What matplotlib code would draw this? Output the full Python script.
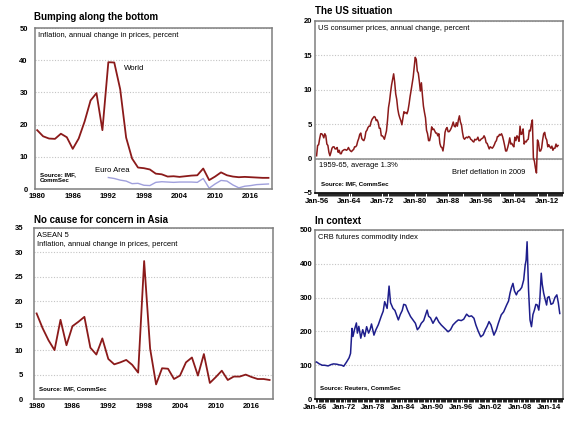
import numpy as np
import matplotlib
matplotlib.use("Agg")
import matplotlib.pyplot as plt

plt.rcParams["font.family"] = ["Liberation Sans", "DejaVu Sans"]

RED = "#8B1A1A"
NAVY = "#1E1E8C"
EURO = "#A0A0DC"
FRAME = "#7F7F7F"
GRID = "#C4C4C4"

# World / Euro area inflation, annual
years = list(range(1980, 2020))
world = [18.3, 16.4, 15.7, 15.6, 17.2, 16.1, 12.5, 15.7, 21.0, 27.5,
         29.8, 18.3, 39.4, 39.3, 31.0, 16.0, 9.5, 6.7, 6.5, 6.1,
         4.8, 4.6, 3.9, 4.0, 3.8, 4.0, 4.2, 4.3, 6.4, 2.8,
         3.9, 5.2, 4.3, 3.9, 3.7, 3.8, 3.7, 3.6, 3.5, 3.5]
euro_years = list(range(1992, 2020))
euro = [3.6, 3.3, 2.8, 2.5, 1.7, 1.8, 1.2, 1.1, 2.1, 2.3,
        2.2, 2.1, 2.2, 2.2, 2.2, 2.1, 3.3, 0.3, 1.6, 2.7,
        2.5, 1.3, 0.4, 0.9, 1.1, 1.4, 1.5, 1.6]

# ASEAN 5 inflation, annual
asean = [17.5, 14.5, 12.0, 10.0, 16.2, 11.0, 14.9, 15.8, 16.8, 10.5,
         9.1, 12.4, 8.2, 7.1, 7.5, 8.0, 7.0, 5.4, 28.2, 10.3,
         3.0, 6.3, 6.2, 4.1, 4.8, 7.5, 8.5, 4.8, 9.2, 3.3,
         4.5, 5.8, 3.9, 4.6, 4.6, 5.0, 4.5, 4.1, 4.1, 3.9]

# US CPI, annual change, quarterly from Q1 1956
us_start = 1956
us_cpi = [0.4, 1.9, 2.0, 2.9, 3.6, 3.6, 3.4, 3.0, 3.6, 3.3, 2.1, 1.9,
          0.9, 0.4, 0.9, 1.5, 1.7, 1.7, 1.4, 1.4, 1.6, 0.9, 1.2, 0.7,
          0.7, 1.1, 1.2, 1.3, 1.3, 1.2, 1.3, 1.6, 1.3, 1.1, 1.0, 1.2,
          1.3, 1.7, 1.7, 1.9, 2.5, 2.9, 3.5, 3.7, 2.9, 2.7, 2.6, 3.0,
          3.9, 4.1, 4.5, 4.7, 4.7, 5.3, 5.7, 5.9, 6.1, 6.0, 5.5, 5.6,
          5.2, 4.4, 4.4, 3.3, 3.3, 3.1, 2.8, 3.4, 4.0, 5.5, 7.4, 8.3,
          9.6, 10.7, 11.5, 12.3, 11.1, 9.4, 8.6, 7.2, 6.4, 5.9, 5.5, 4.9,
          5.9, 6.8, 6.6, 6.7, 6.5, 7.0, 7.9, 9.0, 9.9, 10.9, 11.8, 13.3,
          14.7, 14.4, 12.7, 12.4, 11.2, 9.8, 11.0, 9.2, 7.6, 6.7, 5.9, 4.1,
          3.6, 2.6, 2.6, 3.3, 4.6, 4.2, 4.3, 4.0, 3.7, 3.7, 3.3, 3.6,
          2.2, 1.7, 1.6, 1.1, 2.1, 3.8, 4.3, 4.5, 3.9, 3.9, 4.1, 4.4,
          4.8, 5.3, 4.7, 4.6, 5.2, 4.7, 5.6, 6.2, 5.3, 4.9, 3.8, 3.0,
          2.8, 3.0, 3.1, 3.0, 3.2, 3.1, 2.8, 2.7, 2.5, 2.4, 2.8, 2.7,
          2.8, 3.1, 2.6, 2.6, 2.8, 2.9, 3.0, 3.3, 3.0, 2.3, 2.2, 1.8,
          1.4, 1.7, 1.6, 1.5, 1.7, 2.0, 2.4, 2.6, 3.2, 3.2, 3.5, 3.4,
          3.6, 3.2, 2.6, 1.9, 1.1, 1.1, 1.6, 2.2, 3.0, 2.1, 2.2, 1.9,
          1.7, 3.1, 2.6, 3.3, 3.1, 2.5, 4.7, 3.5, 3.6, 4.3, 2.1, 2.5,
          2.4, 2.7, 2.8, 4.1, 4.0, 5.0, 5.6, 0.1, -0.4, -1.4, -2.1, 2.7,
          2.3, 1.1, 1.1, 1.5, 2.7, 3.6, 3.8, 3.0, 2.7, 1.7, 2.0, 1.7,
          1.5, 1.8, 1.2, 1.5, 1.5, 2.1, 1.7, 1.9]

# CRB futures commodity index
crb_dates = [1966.0, 1966.3, 1966.9, 1967.5, 1968.0, 1968.7, 1969.3, 1969.8,
             1970.5, 1971.0, 1971.5, 1971.9, 1972.5, 1973.0, 1973.3, 1973.6,
             1973.8, 1974.1, 1974.5, 1974.7, 1975.0, 1975.4, 1975.8, 1976.2,
             1976.6, 1977.0, 1977.3, 1977.6, 1978.1, 1978.5, 1979.0, 1979.6,
             1980.0, 1980.3, 1980.8, 1981.2, 1981.5, 1982.0, 1982.4, 1983.1,
             1983.5, 1983.9, 1984.2, 1984.6, 1985.0, 1985.6, 1986.2, 1986.6,
             1987.0, 1987.4, 1987.8, 1988.3, 1989.0, 1989.3, 1989.7, 1990.2,
             1990.9, 1991.4, 1991.9, 1992.6, 1993.3, 1993.8, 1994.3, 1994.9,
             1995.4, 1996.0, 1996.5, 1997.1, 1997.6, 1998.1, 1998.6, 1999.0,
             1999.5, 2000.0, 2000.5, 2000.9, 2001.3, 2001.7, 2002.1, 2002.7,
             2003.2, 2003.6, 2004.2, 2004.7, 2005.3, 2005.7, 2006.0, 2006.3,
             2006.6, 2006.9, 2007.3, 2007.6, 2008.0, 2008.4, 2008.8, 2009.1,
             2009.3, 2009.5, 2009.8, 2010.1, 2010.4, 2010.7, 2011.0, 2011.3,
             2011.6, 2011.9, 2012.1, 2012.4, 2012.6, 2012.9, 2013.2, 2013.5,
             2013.7, 2014.0, 2014.4, 2014.8, 2015.2, 2015.6, 2015.9, 2016.2]
crb_values = [108, 110, 104, 100, 100, 98, 102, 104,
              103, 101, 100, 97, 110, 122, 135, 209,
              185, 205, 225, 195, 215, 180, 205, 185,
              214, 195, 205, 222, 189, 205, 220, 245,
              260, 288, 268, 334, 285, 268, 262, 234,
              250, 262, 280, 278, 262, 244, 232, 224,
              205, 212, 224, 232, 263, 245, 240, 224,
              242, 228, 219, 209, 199, 205, 219, 228,
              234, 232, 236, 251, 244, 246, 239, 219,
              200, 184, 190, 204, 215, 229, 219, 189,
              205, 224, 249, 258, 278, 290, 313, 330,
              342, 320, 308, 318, 322, 330, 352, 395,
              411, 465, 322, 234, 214, 250, 263, 280,
              278, 263, 290, 372, 340, 313, 295, 278,
              300, 303, 280, 283, 300, 308, 285, 253]

TICK_FS = 5.5
NOTE_FS = 5.4
SRC_FS = 4.4


def style_axes(ax, ypad, dense_bottom=False):
    for side in ["top", "left", "right", "bottom"]:
        ax.spines[side].set_color(FRAME)
        ax.spines[side].set_linewidth(1.1)
    ax.yaxis.grid(True, linestyle=(0, (1, 1.5)), color=GRID, linewidth=0.8)
    ax.set_axisbelow(True)
    ax.tick_params(axis="y", length=0, pad=ypad, labelsize=TICK_FS)
    ax.tick_params(axis="x", length=0, pad=2.5, labelsize=TICK_FS)
    for lab in ax.get_xticklabels() + ax.get_yticklabels():
        lab.set_fontweight("bold")
    if dense_bottom:
        ax.spines["bottom"].set_color("black")
        ax.spines["bottom"].set_linewidth(1.2)
        ax.tick_params(axis="x", which="minor", length=2.2, width=0.6,
                       color="black", direction="out")
        ax.tick_params(axis="x", which="major", pad=3.5)


fig = plt.figure(figsize=(5.8, 4.25), dpi=100)

# Top left: world
ax1 = fig.add_axes([0.060, 0.555, 0.409, 0.379])
ax1.plot(years, world, color=RED, linewidth=1.3)
ax1.plot(euro_years, euro, color=EURO, linewidth=1.0)
ax1.set_xlim(1979.6, 2019.6)
ax1.set_ylim(0, 50)
ax1.set_xticks(range(1980, 2020, 6))
ax1.set_yticks(range(0, 51, 10))
style_axes(ax1, ypad=5)
ax1.text(0.012, 0.975, "Inflation, annual change in prices, percent",
         transform=ax1.transAxes, fontsize=NOTE_FS, va="top", ha="left")
ax1.text(1994.7, 37.5, "World", fontsize=5.6, ha="left", va="center")
ax1.text(1989.7, 5.8, "Euro Area", fontsize=5.6, ha="left", va="center")
ax1.text(1980.4, 3.5, "Source: IMF,\nCommSec", fontsize=SRC_FS,
         fontweight="bold", ha="left", va="center", linespacing=1.3)
fig.text(0.059, 0.960, "Bumping along the bottom", fontsize=7,
         fontweight="bold", ha="left", va="center")

# Top right: US
us_x = [us_start + i / 4 for i in range(len(us_cpi))]
ax2 = fig.add_axes([0.543, 0.546, 0.428, 0.405])
ax2.plot(us_x, us_cpi, color=RED, linewidth=1.1)
ax2.axhline(0, color="#8C8C8C", linewidth=1.1, zorder=1)
ax2.set_xlim(1955.6, 2016.0)
ax2.set_ylim(-5, 20)
ax2.set_xticks(range(1956, 2016, 8))
ax2.set_xticks(np.arange(1956, 2016, 0.25), minor=True)
ax2.set_xticklabels(["Jan-%02d" % (y % 100) for y in range(1956, 2016, 8)])
ax2.set_yticks(range(-5, 21, 5))
style_axes(ax2, ypad=2, dense_bottom=True)
ax2.text(0.012, 0.975, "US consumer prices, annual change, percent",
         transform=ax2.transAxes, fontsize=NOTE_FS, va="top", ha="left")
ax2.text(1956.5, -1.0, "1959-65, average 1.3%", fontsize=NOTE_FS,
         ha="left", va="center")
ax2.text(1989.0, -2.0, "Brief deflation in 2009", fontsize=NOTE_FS,
         ha="left", va="center")
ax2.text(1957.0, -3.6, "Source: IMF, CommSec", fontsize=SRC_FS,
         fontweight="bold", ha="left", va="center")
fig.text(0.543, 0.974, "The US situation", fontsize=7,
         fontweight="bold", ha="left", va="center")

# Bottom left: ASEAN
ax3 = fig.add_axes([0.059, 0.061, 0.412, 0.403])
ax3.plot(years, asean, color=RED, linewidth=1.3)
ax3.set_xlim(1979.6, 2019.6)
ax3.set_ylim(0, 35)
ax3.set_xticks(range(1980, 2020, 6))
ax3.set_yticks(range(0, 36, 5))
style_axes(ax3, ypad=8)
ax3.text(0.012, 0.975, "ASEAN 5\nInflation, annual change in prices, percent",
         transform=ax3.transAxes, fontsize=NOTE_FS, va="top", ha="left",
         linespacing=1.4)
ax3.text(1980.4, 2.1, "Source: IMF, CommSec", fontsize=SRC_FS,
         fontweight="bold", ha="left", va="center")
fig.text(0.059, 0.482, "No cause for concern in Asia", fontsize=7,
         fontweight="bold", ha="left", va="center")

# Bottom right: CRB
ax4 = fig.add_axes([0.543, 0.061, 0.428, 0.398])
ax4.plot(crb_dates, crb_values, color=NAVY, linewidth=1.1)
ax4.set_xlim(1966.0, 2016.9)
ax4.set_ylim(0, 500)
ax4.set_xticks(range(1966, 2016, 6))
ax4.set_xticks(np.arange(1966, 2017, 0.25), minor=True)
ax4.set_xticklabels(["Jan-%02d" % (y % 100) for y in range(1966, 2016, 6)])
ax4.set_yticks(range(0, 501, 100))
style_axes(ax4, ypad=2, dense_bottom=True)
ax4.text(0.012, 0.975, "CRB futures commodity index",
         transform=ax4.transAxes, fontsize=NOTE_FS, va="top", ha="left")
ax4.text(1967.0, 35, "Source: Reuters, CommSec", fontsize=SRC_FS,
         fontweight="bold", ha="left", va="center")
fig.text(0.543, 0.480, "In context", fontsize=7,
         fontweight="bold", ha="left", va="center")

fig.savefig("out.png", dpi=100)
